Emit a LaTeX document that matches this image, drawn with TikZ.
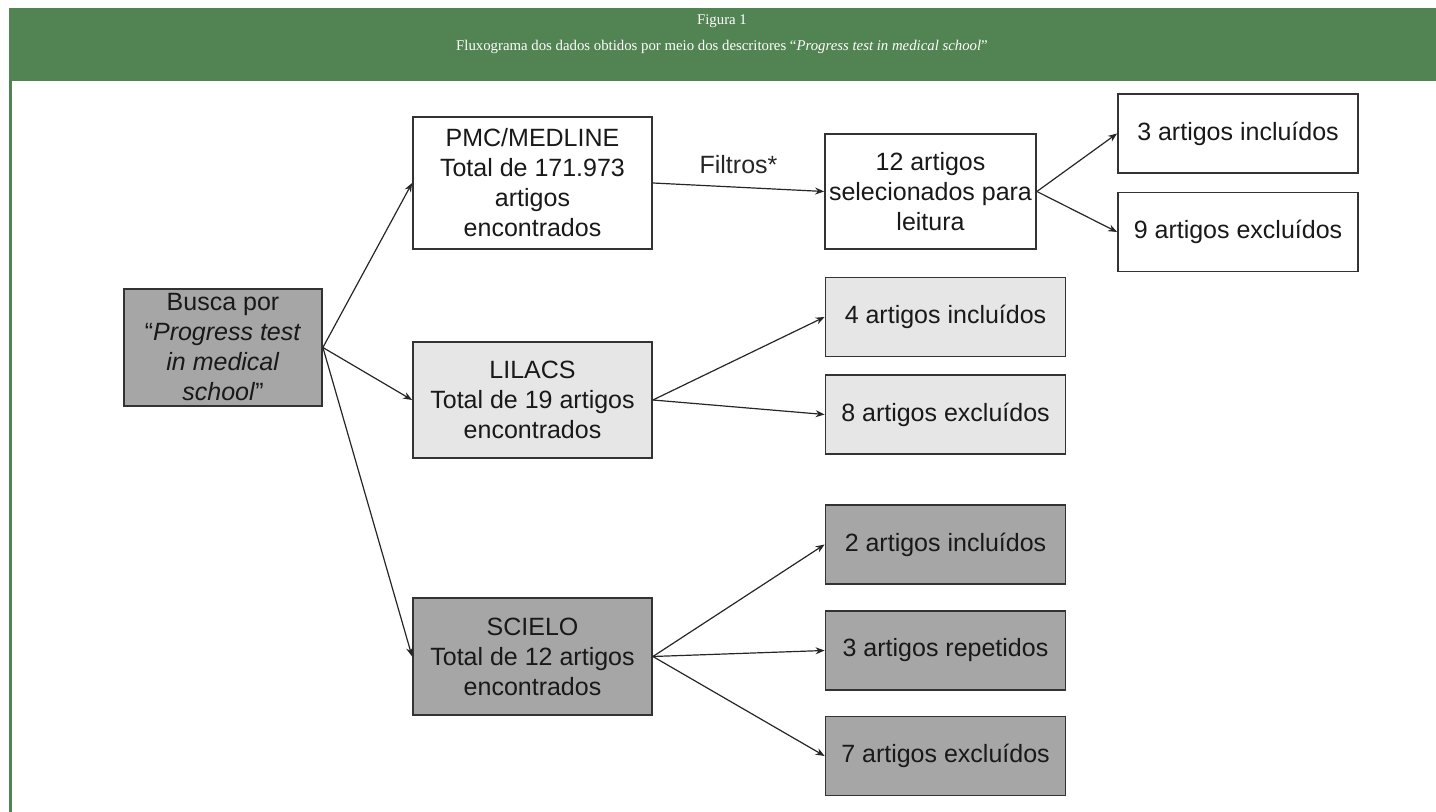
\documentclass[tikz,border=0pt]{standalone}
\usepackage{fontspec}
\setmainfont{Liberation Sans}
\newfontfamily\capfont{Liberation Serif}
\usepackage{tikz}
\usetikzlibrary{arrows.meta,positioning}
\definecolor{band}{HTML}{528352}
\definecolor{boxdark}{HTML}{A6A6A6}
\definecolor{boxlight}{HTML}{E6E6E6}

\begin{document}
\begin{tikzpicture}[x=.5pt,y=-.5pt,
  box/.style={draw=black!80,line width=.9pt,align=center,inner sep=0pt,text=black!90,font=\fontsize{12.5}{15}\selectfont},
  leaf/.style={box,minimum width=120pt,minimum height=39.5pt},
  src/.style={box,minimum width=119.5pt},
  link/.style={-{Stealth[length=4.5pt,width=3.5pt]},line width=.6pt,black!85},
  head/.style={white,font=\capfont\fontsize{7.4}{9}\selectfont}]
\useasboundingbox (0,0) rectangle (1436,812);
% cabecalho
\fill[band] (9,8) rectangle (1436,81);
\draw[band,line width=1.2pt] (10.5,81) -- (10.5,812);
\node[head] (fig) at (722,21) {Figura 1};
\node[head] (cap) at (722,47) {Fluxograma dos dados obtidos por meio dos descritores \textquotedblleft\textit{Progress test in medical school}\textquotedblright};
% busca e bases
\node[box,fill=boxdark,minimum width=99pt,minimum height=58.5pt] (busca) at (223,347.5) {Busca por\\\textquotedblleft\textit{Progress test}\\\textit{in medical}\\\textit{school}\textquotedblright};
\node[src,fill=white,minimum height=66pt] (pmc) at (532.5,183) {PMC/MEDLINE\\Total de 171.973\\artigos\\encontrados};
\node[src,fill=boxlight,minimum height=58pt] (lil) at (532.5,400) {LILACS\\Total de 19 artigos\\encontrados};
\node[src,fill=boxdark,minimum height=58.5pt] (sci) at (532.5,656.5) {SCIELO\\Total de 12 artigos\\encontrados};
% resultados
\node[box,fill=white,minimum width=105.5pt,minimum height=57.5pt] (sel) at (930.5,191.5) {12 artigos\\selecionados para\\leitura};
\node[leaf,fill=white] (pinc) at (1238,133.5) {3 artigos incluídos};
\node[leaf,fill=white] (pexc) at (1238,232) {9 artigos excluídos};
\node[leaf,fill=boxlight] (linc) at (945.5,317) {4 artigos incluídos};
\node[leaf,fill=boxlight] (lexc) at (945.5,414.5) {8 artigos excluídos};
\node[leaf,fill=boxdark] (sinc) at (945.5,544.5) {2 artigos incluídos};
\node[leaf,fill=boxdark] (srep) at (945.5,650.5) {3 artigos repetidos};
\node[leaf,fill=boxdark] (sexc) at (945.5,756) {7 artigos excluídos};
% setas
\foreach \b in {pmc,lil,sci}{\draw[link] (busca.east) -- (\b.west);}
\draw[link] (pmc.east) -- node[above=3pt,font=\fontsize{12.5}{15}\selectfont] {Filtros*} (sel.west);
\foreach \r in {pinc,pexc}{\draw[link] (sel.east) -- (\r.west);}
\foreach \r in {linc,lexc}{\draw[link] (lil.east) -- (\r.west);}
\foreach \r in {sinc,srep,sexc}{\draw[link] (sci.east) -- (\r.west);}
\end{tikzpicture}
\end{document}
